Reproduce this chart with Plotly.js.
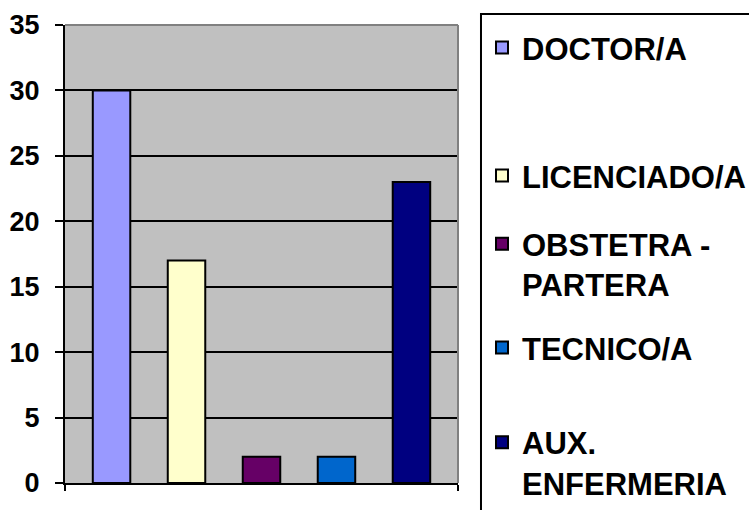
<!DOCTYPE html>
<html>
<head>
<meta charset="utf-8">
<script src="https://cdn.plot.ly/plotly-3.0.1.min.js"></script>
<style>html,body{margin:0;padding:0;background:#fff;}#chart{width:749px;height:510px;}</style>
</head>
<body>
<div id="chart"></div>
<script>
const category = ["Personal"];
const series = ["DOCTOR/A", "LICENCIADO/A", "OBSTETRA -<br>PARTERA", "TECNICO/A", "AUX.<br>ENFERMERIA"];
const values = [30, 17, 2, 2, 23];
const colors = ["#9999FF", "#FFFFCC", "#660066", "#0066CC", "#000080"];
const yTicks = [0, 5, 10, 15, 20, 25, 30, 35];

const fontFam = "Liberation Sans, Arial, sans-serif";
const legendY = [0.906, 0.655, 0.482, 0.318, 0.093];

const traces = series.map((s, i) => ({
  type: "bar",
  x: category,
  y: [values[i]],
  name: s,
  marker: {color: colors[i], line: {color: "#000", width: 2}},
  legend: i === 0 ? "legend" : "legend" + (i + 1),
  hoverinfo: "skip"
}));

const layout = {
  width: 749, height: 510,
  margin: {l: 65, r: 291, t: 25, b: 26.5},
  paper_bgcolor: "#fff",
  plot_bgcolor: "#C0C0C0",
  barmode: "group",
  bargap: 0.046,
  bargroupgap: 0.5,
  showlegend: true,
  xaxis: {
    type: "category",
    showticklabels: false,
    ticks: "outside", tickson: "boundaries", ticklen: 6, tickwidth: 2, tickcolor: "#000",
    showline: true, linecolor: "#000", linewidth: 2,
    showgrid: false, zeroline: false
  },
  yaxis: {
    range: [0, 35], tickvals: yTicks,
    showgrid: true, gridcolor: "#000", gridwidth: 2,
    showline: true, linecolor: "#000", linewidth: 2,
    ticks: "outside", ticklen: 8, tickwidth: 2, tickcolor: "#000",
    ticklabelstandoff: 10,
    zeroline: false,
    tickfont: {family: fontFam, size: 27, weight: "bold", color: "#000"}
  },
  shapes: [
    {type: "line", xref: "paper", yref: "paper", x0: 0, x1: 1, y0: 1, y1: 1, line: {color: "#808080", width: 2}},
    {type: "line", xref: "paper", yref: "paper", x0: 1, x1: 1, y0: 0, y1: 1, line: {color: "#808080", width: 2}},
    {type: "rect", xref: "paper", yref: "paper", x0: 1.0585, x1: 1.8, y0: -0.08, y1: 1.024, line: {color: "#000", width: 2}, fillcolor: "rgba(0,0,0,0)"}
  ]
};

legendY.forEach((y, i) => {
  const key = i === 0 ? "legend" : "legend" + (i + 1);
  layout[key] = {
    xref: "container", yref: "container",
    x: 482 / 749, y: y, xanchor: "left", yanchor: "middle",
    bgcolor: "rgba(0,0,0,0)", borderwidth: 0,
    valign: "top",
    font: {family: fontFam, size: 31, weight: "bold", color: "#000"}
  };
});

Plotly.newPlot("chart", traces, layout, {staticPlot: true, displayModeBar: false});
</script>
</body>
</html>
